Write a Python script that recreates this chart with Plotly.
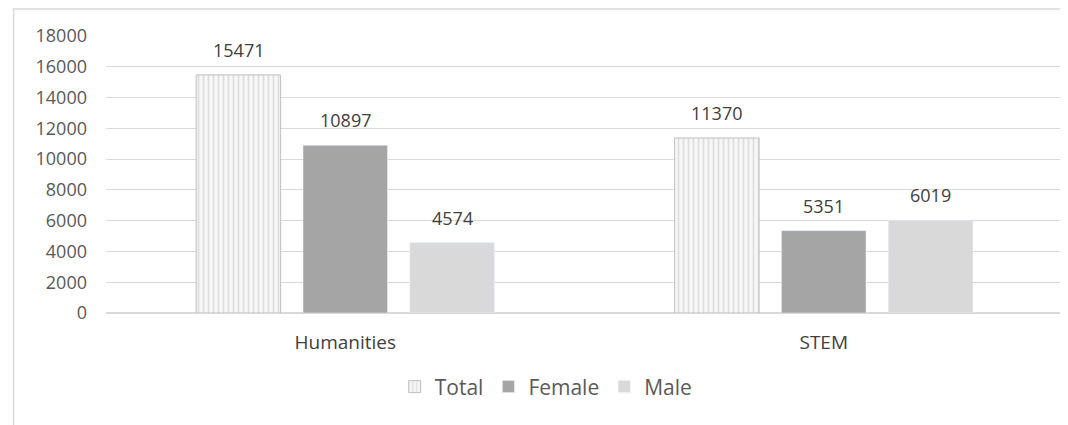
import plotly.graph_objects as go

categories = ["Humanities", "STEM"]
total = [15471, 11370]
female = [10897, 5351]
male = [4574, 6019]

TEXT = "#404040"
AXIS_TEXT = "#595959"
GRID = "#d9d9d9"
FONT = "Open Sans, Liberation Sans, sans-serif"

# page body adds an 8px offset, so the figure is a bit smaller than the window
W, H = 1060, 417
L, R, T, B = 97.5, 4.5, 28, 112
pw = W - L - R
ph = H - T - B

fig = go.Figure()
fig.add_trace(
    go.Bar(
        x=categories,
        y=total,
        name="Total",
        marker=dict(
            color="white",
            line=dict(color="#bfbfbf", width=1),
            pattern=dict(shape="|", fgcolor="#c4c4c4", bgcolor="#f7f7f7", size=5, solidity=0.35),
        ),
    )
)
fig.add_trace(go.Bar(x=categories, y=female, name="Female", marker=dict(color="#a5a5a5")))
fig.add_trace(go.Bar(x=categories, y=male, name="Male", marker=dict(color="#d9d9d9")))

# value labels sit a little higher above the bars than plotly's outside text
slot = pw / len(categories) * 0.67 / 3
for i, series in enumerate([total, female, male]):
    for cat, val in zip(categories, series):
        fig.add_annotation(
            x=cat,
            y=val,
            text=str(val),
            showarrow=False,
            xshift=(i - 1) * slot,
            yshift=11,
            yanchor="bottom",
            font=dict(size=18, color=TEXT, family=FONT),
        )

# outer chart frame (top and left edges visible)
fig.add_shape(
    type="rect",
    xref="paper",
    yref="paper",
    x0=(5 - L) / pw,
    x1=(W + 20 - L) / pw,
    y0=-(H + 20 - T - ph) / ph,
    y1=(H - B - 1) / ph,
    line=dict(color="#d9d9d9", width=1.5),
    layer="below",
)

fig.update_layout(
    width=W,
    height=H,
    barmode="group",
    bargap=0.33,
    bargroupgap=0.21,
    paper_bgcolor="white",
    plot_bgcolor="white",
    font=dict(family=FONT, color=TEXT),
    margin=dict(l=L, r=R, t=T, b=B, pad=0),
    showlegend=True,
    legend=dict(
        orientation="h",
        xanchor="center",
        x=0.46,
        yanchor="middle",
        y=-0.267,
        font=dict(size=21, color=AXIS_TEXT),
        itemwidth=30,
        traceorder="normal",
    ),
)
fig.update_xaxes(
    showgrid=False,
    showline=False,
    ticks="",
    ticklabelstandoff=16,
    tickfont=dict(size=19, color=TEXT),
)
fig.update_yaxes(
    range=[0, 18000],
    dtick=2000,
    gridcolor=GRID,
    zeroline=True,
    zerolinecolor=GRID,
    showline=False,
    ticklabelstandoff=18,
    tickfont=dict(size=18, color=AXIS_TEXT),
    tickformat="d",
)

fig.write_html("out.html")
